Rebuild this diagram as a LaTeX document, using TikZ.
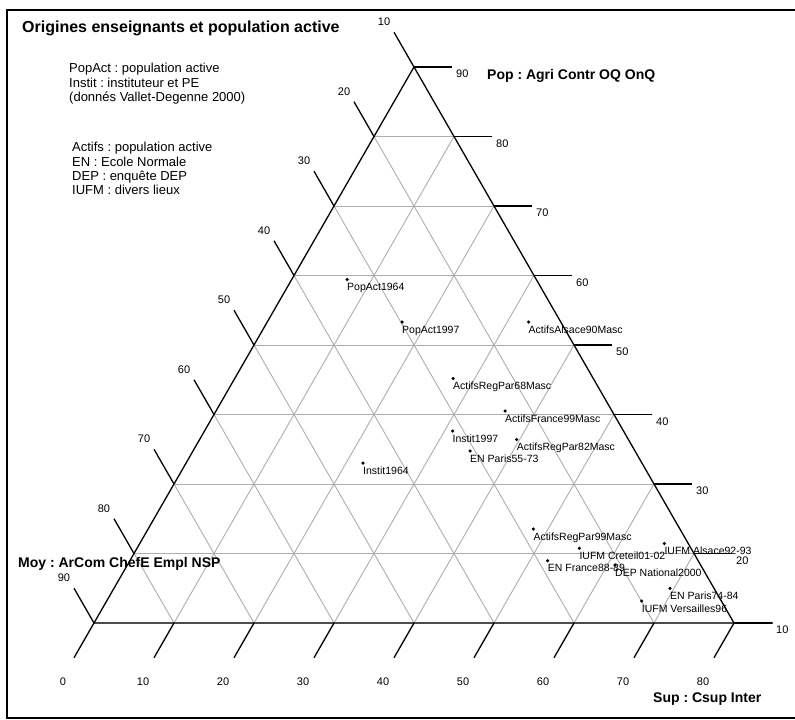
\documentclass[tikz,border=0pt]{standalone}
\usepackage{fontspec}
\setmainfont{Liberation Sans}
\frenchspacing
\begin{document}
\begin{tikzpicture}[x=1pt,y=-1pt,
  gridline/.style={draw=black!32, line width=0.9pt},
  edgeline/.style={draw=black, line width=1.3pt},
  baseline/.style={draw=black!70, line width=1.5pt},
  tickline/.style={draw=black, line width=1.3pt},
  ticklab/.style={font=\fontsize{11}{12}\selectfont, inner sep=0pt},
  ptlab/.style={font=\fontsize{10.5}{12}\selectfont, inner sep=0pt, anchor=base west},
  legend/.style={font=\fontsize{13}{14}\selectfont, inner sep=0pt, anchor=base west},
  axlab/.style={font=\bfseries\fontsize{14}{16}\selectfont, inner sep=0pt, anchor=base west},
  dotmark/.style={circle, fill=black, inner sep=0pt, minimum size=3.5pt}]
\useasboundingbox (0,0) rectangle (795,720);
% frame
\draw[line width=1.5pt] (796,10) -- (7,10) -- (7,718) -- (796,718);
% key coordinates
\foreach \k in {0,...,8} {
  \coordinate (L\k) at ({94+40*\k},{623-69.5*\k});
  \coordinate (B\k) at ({94+80*\k},623);
  \coordinate (R\k) at ({734-40*\k},{623-69.5*\k});
}
% grid
\foreach \k in {1,...,7} {
  \pgfmathtruncatemacro\m{8-\k}
  \draw[gridline] (L\k) -- (R\k);
  \draw[gridline] (B\k) -- (R\m);
  \draw[gridline] (L\k) -- (B\k);
}
% triangle edges
\draw[baseline] (B0) -- (B8) -- ++(39,0);
\draw[edgeline] (B0) -- (L8) -- (B8);
% ticks and labels
\foreach \k in {0,...,8} {
  \pgfmathtruncatemacro\pv{10+10*\k}
  \pgfmathtruncatemacro\mv{90-10*\k}
  \pgfmathtruncatemacro\sv{10*\k}
  \draw[tickline] (R\k) -- ++(38,0);
  \path (R\k) ++(42,7) node[ticklab, anchor=west] (rl\k) {\pv};
  \draw[tickline] (L\k) -- ++(-20,-34.75);
  \path (L\k) ++(-30,-45) node[ticklab] (ll\k) {\mv};
  \draw[tickline] (B\k) -- ++(-20,34.75);
  \path (B\k) ++(-31,59) node[ticklab] (bl\k) {\sv};
}
% titles
\node[axlab, font=\bfseries\fontsize{16}{18}\selectfont] (title) at (22,32.5) {Origines enseignants et population active};
\node[axlab] (poplab) at (487,79) {Pop : Agri Contr OQ OnQ};
\node[axlab] (moylab) at (18,567) {Moy : ArCom ChefE Empl NSP};
\node[axlab] (suplab) at (653,702) {Sup : Csup Inter};
% legend
\node[legend] (lg1) at (69,72.5) {PopAct : population active};
\node[legend] (lg2) at (69,87) {Instit : instituteur et PE};
\node[legend] (lg3) at (69,101.5) {(donnés Vallet-Degenne 2000)};
\node[legend] (lg4) at (72,151) {Actifs : population active};
\node[legend] (lg5) at (72,166) {EN : Ecole Normale};
\node[legend] (lg6) at (72,180) {DEP : enquête DEP};
\node[legend] (lg7) at (72,194.5) {IUFM : divers lieux};
% data points
\foreach \px/\py/\t [count=\i] in {
  347/279.5/PopAct1964,
  402/322/PopAct1997,
  528.5/322/ActifsAlsace90Masc,
  453/378.5/ActifsRegPar68Masc,
  505/411/ActifsFrance99Masc,
  452.5/431/Instit1997,
  516.7/439.5/ActifsRegPar82Masc,
  470/451/EN Paris55-73,
  363/463/Instit1964,
  533.3/529/ActifsRegPar99Masc,
  579.3/548.3/IUFM Creteil01-02,
  664.3/543.5/IUFM Alsace92-93,
  547.7/560.7/EN France88-89,
  615/565/DEP National2000,
  670/588.3/EN Paris74-84,
  641.7/601/IUFM Versailles96} {
  \node[dotmark] (d\i) at (\px,\py) {};
  \node[ptlab] (t\i) at ({\px},{\py+11}) {\t};
}
\end{tikzpicture}
\end{document}
